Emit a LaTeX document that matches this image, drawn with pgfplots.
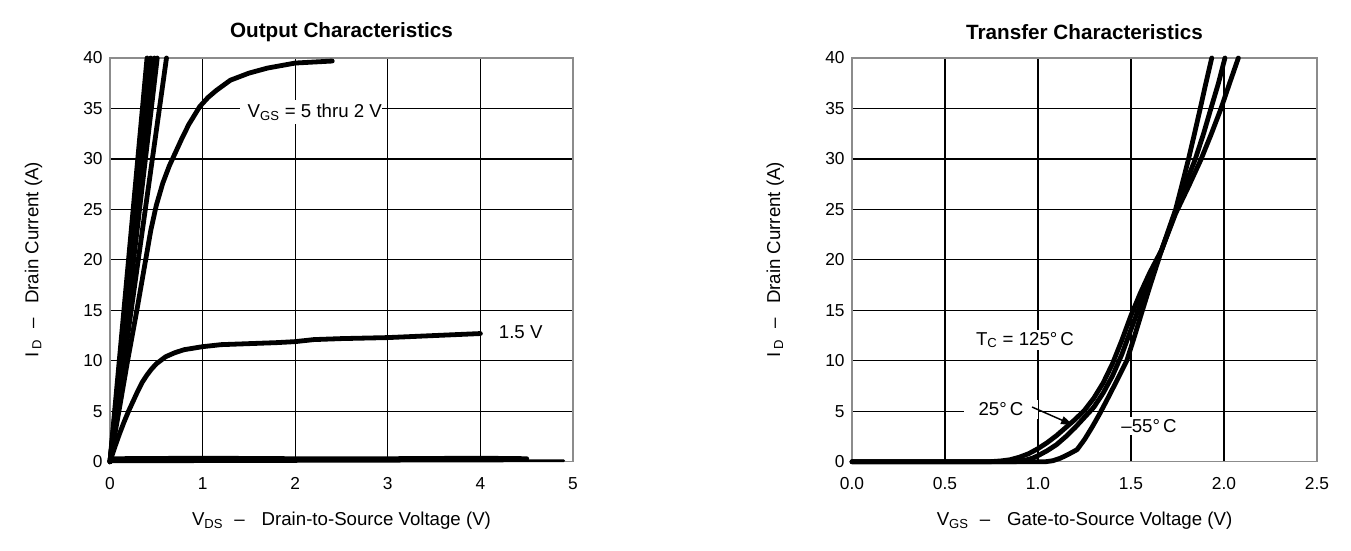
\documentclass[border=0pt]{standalone}
\usepackage{pgfplots}
\pgfplotsset{compat=1.18}
\usepackage{fontspec}
\setmainfont{Liberation Sans}
\usetikzlibrary{arrows.meta}

\pgfplotsset{
 cur/.style={black, line width=3.6pt, line join=round, line cap=round, mark=none},
 myax/.style={
  scale only axis,
  height=302.8pt,
  ymin=0, ymax=40, ytick={0,5,...,40},
  grid=major, major grid style={black, line width=0.9pt},
  axis line style={black!45, line width=1pt},
  major tick length=0pt,
  /pgf/number format/assume math mode=true,
  tick label style={font=\fontsize{13}{15}\selectfont},
  yticklabel style={xshift=-2pt},
  xticklabel style={yshift=-8.5pt},
  label style={font=\fontsize{14}{16}\selectfont},
  title style={font=\bfseries\fontsize{15.5}{18}\selectfont, at={(axis description cs:0.5,1.045)}, anchor=center},
  xlabel style={at={(axis description cs:0.5,-0.147)}, anchor=center},
  ylabel style={at={(axis description cs:-0.165,0.5)}, anchor=center},
  clip=false,
 }
}

\begin{document}
\begin{tikzpicture}
\path (0,0) rectangle (1013.25pt,412.5pt);
\begin{axis}[myax, at={(82.5pt,66.2pt)}, anchor=south west, width=347.25pt,
  xmin=0, xmax=5, xtick={0,1,...,5},
  title={Output Characteristics},
  xlabel={V\textsubscript{DS}\hspace{0.6em}–\hspace{0.9em}Drain-to-Source Voltage (V)},
  ylabel={I\,\textsubscript{D}\hspace{0.6em}–\hspace{0.75em}Drain Current (A)}]
% VGS = 5 thru 2 V bundle
\addplot[cur] coordinates {(0,0) (0.40,40)};
\addplot[cur] coordinates {(0,0) (0.44,40)};
\addplot[cur] coordinates {(0,0) (0.48,40)};
\addplot[cur] coordinates {(0,0) (0.51,40)};
\addplot[cur] coordinates {(0,0) (0.61,40)};
% bending curve
\addplot[cur] coordinates {(0,0) (0.1,5.2) (0.19,10) (0.29,15) (0.385,20) (0.44,22.9) (0.5,25.4) (0.57,27.6) (0.64,29.3) (0.7,30.5) (0.77,31.9) (0.85,33.4) (0.97,35.2) (1.06,36.1) (1.15,36.8) (1.3,37.8) (1.5,38.5) (1.7,39.0) (2.0,39.5) (2.2,39.6) (2.4,39.7)};
% 1.5 V
\addplot[cur] coordinates {(0,0) (0.05,1.4) (0.1,2.7) (0.15,3.9) (0.2,5.0) (0.25,6.0) (0.3,7.0) (0.35,7.9) (0.4,8.6) (0.45,9.2) (0.5,9.7) (0.6,10.4) (0.7,10.8) (0.8,11.1) (1.0,11.4) (1.2,11.6) (1.5,11.7) (1.8,11.8) (2.0,11.9) (2.2,12.1) (2.5,12.2) (3.0,12.3) (3.5,12.5) (4.0,12.7)};
% low VGS
\addplot[cur] coordinates {(0,0) (0.05,0.3) (1,0.35) (2,0.3) (3,0.3) (4,0.35) (4.5,0.3)};
\addplot[cur, line width=2.2pt] coordinates {(0,0) (4.5,0.1) (4.9,0.1)};
\node[fill=white, anchor=west, inner xsep=0pt, inner ysep=2.5pt, font=\fontsize{14}{16}\selectfont] at (axis cs:1.398,34.66) {\hspace{6pt}V\textsubscript{GS} = 5 thru 2 V\hspace{18pt}};
\node[font=\fontsize{14}{16}\selectfont] at (axis cs:4.435,12.8) {1.5 V};
\end{axis}

\begin{axis}[myax, at={(639pt,66.2pt)}, anchor=south west, width=348.75pt,
  xmin=0, xmax=2.5, xtick={0,0.5,...,2.5},
  xticklabel style={/pgf/number format/.cd, fixed, fixed zerofill, precision=1},
  title={Transfer Characteristics},
  xlabel={V\textsubscript{GS}\hspace{0.6em}–\hspace{0.9em}Gate-to-Source Voltage (V)},
  ylabel={I\,\textsubscript{D}\hspace{0.6em}–\hspace{0.75em}Drain Current (A)}]
% 125 C
\addplot[cur] coordinates {(0,0) (0.74,0) (0.8,0.08) (0.85,0.2) (0.9,0.45) (0.95,0.8) (1.0,1.3) (1.05,1.9) (1.1,2.6) (1.15,3.4) (1.2,4.2) (1.25,5.1) (1.3,6.3) (1.35,7.8) (1.4,9.7) (1.45,12.0) (1.5,14.5) (1.55,16.7) (1.6,18.7) (1.665,21.0) (1.74,24.6) (1.81,27.3) (1.875,29.9) (1.93,32.4) (1.982,34.9) (2.03,37.5) (2.077,40)};
% 25 C
\addplot[cur] coordinates {(0,0) (0.88,0) (0.93,0.15) (0.97,0.35) (1.0,0.6) (1.05,1.1) (1.1,1.7) (1.15,2.5) (1.2,3.4) (1.25,4.4) (1.3,5.4) (1.35,6.8) (1.4,8.5) (1.45,10.6) (1.5,13.1) (1.55,15.6) (1.6,18.1) (1.665,21.0) (1.74,24.8) (1.79,27.4) (1.844,29.9) (1.89,32.5) (1.928,34.9) (1.97,37.5) (2.005,40)};
% -55 C
\addplot[cur] coordinates {(0,0) (1.04,0) (1.08,0.1) (1.12,0.35) (1.16,0.7) (1.21,1.2) (1.25,2.2) (1.29,3.4) (1.33,4.7) (1.37,6.1) (1.42,7.9) (1.477,10) (1.52,12.5) (1.558,14.8) (1.6,17.3) (1.665,21.0) (1.74,25.0) (1.775,27.5) (1.808,29.9) (1.84,32.4) (1.871,34.9) (1.9,37.3) (1.934,40)};
\node[fill=white, inner sep=1.5pt, font=\fontsize{14}{16}\selectfont] at (axis cs:0.93,12.06) {T\textsubscript{C} = 125°\,C};
\node[fill=white, inner xsep=11pt, inner ysep=2pt, font=\fontsize{14}{16}\selectfont] at (axis cs:0.801,5.2) {25°\,C};
\draw[-{Triangle[length=9pt,width=6pt]}, line width=1.1pt] (axis cs:0.968,5.42) -- (axis cs:1.188,3.64);
\node[fill=white, inner sep=2pt, font=\fontsize{14}{16}\selectfont] at (axis cs:1.597,3.56) {–55°\,C};
\end{axis}
\end{tikzpicture}
\end{document}
